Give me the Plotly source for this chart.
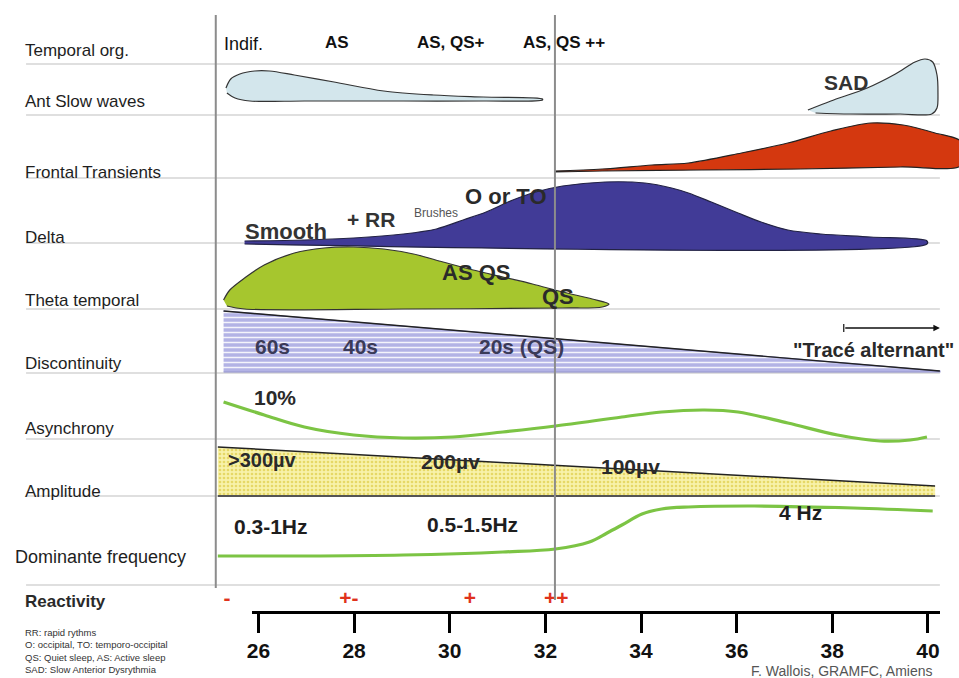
import plotly.graph_objects as go

FONT = "Arial, Liberation Sans, sans-serif"

# ---------------- gestational age axis (weeks) ----------------
WEEK_TICKS = [26, 28, 30, 32, 34, 36, 38, 40]
X_RANGE = (20.72, 40.65)          # visible span of the diagram, in weeks
AXIS_SPAN = (25.875, 40.25)       # span of the drawn week ruler

# ---------------- rows ----------------
ROW_LABELS = ["Temporal org.", "Ant Slow waves", "Frontal Transients", "Delta",
              "Theta temporal", "Discontinuity", "Asynchrony", "Amplitude",
              "Dominante frequency", "Reactivity"]
ROW_LABEL_Y = [50, 101, 172, 237, 300, 363, 428, 491, 557, 601]
ROW_RULES = [64, 115, 178, 243, 309, 373, 439, 496, 585]   # lower rule of each row
TERM_BOUNDARY = 32.2

# ---------------- profiles (weeks, height above the row rule) ----------------
ORG_WEEKS = [25.34, 27.64, 30.03, 31.59]
ORG_TEXT = ["Indif.", "AS", "AS, QS+", "AS, QS ++"]

ANT_SLOW_WEEKS = [25.32, 25.42, 25.61, 25.92, 26.23, 26.75, 27.58, 28.62, 29.66, 30.70,
                  31.94, 31.94, 30.70, 29.03, 26.96, 25.82, 25.51, 25.34]
ANT_SLOW_LEVEL = [27, 36, 41, 44, 44, 40, 33, 24, 20, 18, 16, 15, 14, 14, 14, 14, 17, 22]

SAD_WEEKS = [37.49, 37.97, 38.73, 39.32, 39.73, 39.94, 40.10, 40.19, 40.21, 40.19,
             40.08, 39.42, 38.38, 37.65]
SAD_LEVEL = [5, 14, 27, 41, 53, 56, 53, 40, 22, 7, 1, 1, 1, 2]

FRONTAL_WEEKS = [32.19, 33.19, 34.23, 34.99, 36.10, 37.07, 37.97, 38.80, 39.48, 40.15,
                 40.71, 40.71, 39.42, 37.34, 35.26, 33.19, 32.19]
FRONTAL_LEVEL = [7, 9, 13, 15, 25, 35, 47, 55, 53, 45, 36, 13, 11, 9, 8, 7, 6]

DELTA_WEEKS = [25.71, 26.96, 27.99, 29.03, 29.72, 30.28, 30.76, 31.32, 31.80, 32.36,
               33.25, 34.08, 34.64, 34.99, 35.47, 36.03, 36.51, 37.07, 37.76, 38.80,
               39.98, 39.98, 25.71]
DELTA_LEVEL = [2, 3, 5, 9, 14, 23, 31, 43, 51, 57, 61, 60, 55, 50, 41, 30, 21, 13, 9, 6,
               2, -1, -1]

THETA_WEEKS = [25.27, 25.40, 25.71, 26.12, 26.75, 27.37, 27.99, 28.62, 29.24, 29.86,
               30.49, 31.11, 31.73, 32.36, 32.98, 33.33, 33.19, 32.36, 29.03, 25.71, 25.34]
THETA_LEVEL = [9, 19, 31, 44, 56, 61, 62, 60, 55, 47, 39, 32, 25, 17, 10, 5, 2, 1, 0, 0, 3]

DISCONT_WEEKS = [25.27, 40.25, 40.25, 25.27]
DISCONT_LEVEL = [62, 2, 1, 1]

ASYNC_WEEKS = [25.27, 26.12, 26.96, 27.99, 29.03, 30.07, 31.11, 32.21, 33.60, 34.43,
               35.33, 36.03, 37.07, 38.11, 39.00, 39.63, 39.98]
ASYNC_LEVEL = [37, 24, 12, 4, 1, 2, 7, 13, 22, 27, 29, 27, 16, 4, -2, -1, 2]

AMPL_WEEKS = [25.15, 40.15, 40.15, 25.15]
AMPL_LEVEL = [49, 10, 0, 0]

FREQ_WEEKS = [25.15, 26.96, 29.03, 31.11, 32.21, 32.92, 33.29, 33.60, 34.02, 34.43,
              34.99, 36.37, 38.44, 40.10]
FREQ_LEVEL = [29, 29, 30, 33, 36, 43, 52, 60, 71, 76, 78, 79, 77, 74]

REACT_WEEKS = [25.34, 27.89, 30.42, 32.23]
REACT_MARKS = ["-", "+-", "+", "++"]


def on_row(row, levels):
    base = ROW_RULES[row]
    return [base - v for v in levels]


fig = go.Figure()


def blob(weeks, levels, row, fill, edge="#333333", width=1.2, smooth=True, pattern=None):
    fig.add_trace(go.Scatter(
        x=weeks, y=on_row(row, levels), mode="lines", fill="toself",
        fillcolor=fill, fillpattern=pattern,
        line=dict(color=edge, width=width, shape="spline" if smooth else "linear",
                  smoothing=0.9),
        hoverinfo="skip", showlegend=False))


def curve(weeks, levels, row, color="#7cc444", width=3.2):
    fig.add_trace(go.Scatter(
        x=weeks, y=on_row(row, levels), mode="lines",
        line=dict(color=color, width=width, shape="spline", smoothing=1.0),
        hoverinfo="skip", showlegend=False))


# row rules and the two vertical guides
for y in ROW_RULES:
    fig.add_shape(type="line", xref="x", yref="y", x0=21.14, x1=40.25, y0=y, y1=y,
                  line=dict(color="#d4d4d4", width=1.5), layer="below")
fig.add_shape(type="line", xref="x", yref="y", x0=25.107, x1=25.107, y0=15, y1=588,
              line=dict(color="#8c8c8c", width=2))
fig.add_shape(type="line", xref="x", yref="y", x0=TERM_BOUNDARY, x1=TERM_BOUNDARY,
              y0=15, y1=600, line=dict(color="#8c8c8c", width=2))

# filled profiles
blob(ANT_SLOW_WEEKS, ANT_SLOW_LEVEL, 1, "#d3e6ec")
blob(SAD_WEEKS, SAD_LEVEL, 1, "#d3e6ec")
blob(FRONTAL_WEEKS, FRONTAL_LEVEL, 2, "#d4380f", edge="#222222")
blob(DELTA_WEEKS, DELTA_LEVEL, 3, "#413b97", edge="#222244")
blob(THETA_WEEKS, THETA_LEVEL, 4, "#a6c62e", edge="#333333")
blob(DISCONT_WEEKS, DISCONT_LEVEL, 5, "#b6b6e6", edge="#8585c8", width=1.2, smooth=False,
     pattern=dict(shape="-", fgcolor="rgba(255,255,255,0.85)", bgcolor="#b3b3e5",
                  size=5, solidity=0.3, fillmode="replace"))
fig.add_trace(go.Scatter(x=DISCONT_WEEKS[:2], y=on_row(5, DISCONT_LEVEL[:2]), mode="lines",
                         line=dict(color="#222222", width=1.4), hoverinfo="skip",
                         showlegend=False))
blob(AMPL_WEEKS, AMPL_LEVEL, 7, "#f7ef9e", edge="rgba(0,0,0,0)", width=0.5, smooth=False,
     pattern=dict(shape=".", fgcolor="#e6d866", bgcolor="#f8f2aa", size=4,
                  solidity=0.35, fillmode="replace"))
fig.add_trace(go.Scatter(x=AMPL_WEEKS[:2], y=on_row(7, AMPL_LEVEL[:2]), mode="lines",
                         line=dict(color="#222222", width=1.5), hoverinfo="skip",
                         showlegend=False))
fig.add_trace(go.Scatter(x=AMPL_WEEKS[2:], y=on_row(7, AMPL_LEVEL[2:]), mode="lines",
                         line=dict(color="#555555", width=2), hoverinfo="skip",
                         showlegend=False))

# line profiles
curve(ASYNC_WEEKS, ASYNC_LEVEL, 6)
curve(FREQ_WEEKS, FREQ_LEVEL, 8)

# reactivity marks
fig.add_trace(go.Scatter(
    x=REACT_WEEKS, y=[600] * len(REACT_WEEKS), mode="text",
    text=[f"<b>{m}</b>" for m in REACT_MARKS],
    textfont=dict(size=21, color="#e0321c", family=FONT),
    hoverinfo="skip", showlegend=False))

# invisible anchor for the week ruler
fig.add_trace(go.Scatter(x=[WEEK_TICKS[0], WEEK_TICKS[-1]], y=[650, 650], xaxis="x2",
                         yaxis="y", mode="markers", marker=dict(opacity=0),
                         hoverinfo="skip", showlegend=False))


def note(x, y, text, size=21, bold=True, color="#222222", xanchor="center", ref="x"):
    fig.add_annotation(x=x, y=y, xref=ref, yref="y",
                       text=f"<b>{text}</b>" if bold else text, showarrow=False,
                       font=dict(size=size, color=color, family=FONT),
                       xanchor=xanchor, yanchor="middle",
                       xshift=-5 if xanchor == "left" else 0)


# row labels
for lab, y in zip(ROW_LABELS, ROW_LABEL_Y):
    if lab == "Dominante frequency":
        note(20.97, y, lab, size=18, bold=False, color="#1e1e1e", xanchor="left")
    elif lab == "Reactivity":
        note(21.18, y, lab, size=17, bold=True, color="#2a2a2a", xanchor="left")
    else:
        note(21.18, y, lab, size=17, bold=False, color="#1e1e1e", xanchor="left")

# temporal organisation
for w, t in zip(ORG_WEEKS, ORG_TEXT):
    if t == "Indif.":
        note(w, 44, t, size=18, bold=False, color="#111111", xanchor="left")
    elif t == "AS, QS ++":
        note(w, 42, t, size=17, color="#111111", xanchor="left")
    else:
        note(w, 42, t, size=17, color="#111111")

# in-plot captions
note(38.28, 82, "SAD", size=21, color="#333333")
note(26.58, 231, "Smooth", size=22, color="#333333")
note(28.35, 219, "+ RR", size=21, color="#333333")
note(29.72, 213, "Brushes", size=12, bold=False, color="#555555")
note(31.17, 196, "O or TO", size=22, color="#2a2a2a")
note(30.55, 272, "AS QS", size=22, color="#2a2a2a")
note(32.27, 296, "QS", size=22, color="#2a2a2a")
note(26.29, 346, "60s", size=21, color="#3a3a58")
note(28.14, 346, "40s", size=21, color="#3a3a58")
note(31.50, 346, "20s (QS)", size=21, color="#3a3a58")
note(38.86, 350, "\"Tracé alternant\"", size=20, color="#2a2a2a")
note(26.35, 397, "10%", size=21, color="#2a2a2a")
note(26.08, 460, "&gt;300µv", size=20, color="#2a2a2a")
note(30.01, 461, "200µv", size=21, color="#2a2a2a")
note(33.77, 466, "100µv", size=21, color="#2a2a2a")
note(26.27, 526, "0.3-1Hz", size=21, color="#1e1e1e")
note(30.47, 524, "0.5-1.5Hz", size=21, color="#1e1e1e")
note(37.34, 512, "4 Hz", size=21, color="#1e1e1e")

# arrow towards "tracé alternant"
fig.add_annotation(x=40.25, y=328, ax=38.24, ay=328, xref="x", yref="y", axref="x",
                   ayref="y", text="", showarrow=True, arrowhead=2, arrowsize=1,
                   arrowwidth=1.3, arrowcolor="#111111")
fig.add_shape(type="line", xref="x", yref="y", x0=38.24, x1=38.24, y0=324, y1=332,
              line=dict(color="#111111", width=1.2))

# abbreviations and credit
fig.add_annotation(x=20 / 959, y=651, xref="paper", yref="y", showarrow=False,
                   text=("RR: rapid rythms<br>O: occipital, TO: temporo-occipital<br>"
                         "QS: Quiet sleep, AS: Active sleep<br>SAD: Slow Anterior Dysrythmia"),
                   align="left", xanchor="left", yanchor="middle", xshift=-3,
                   font=dict(size=9.5, color="#333333", family=FONT))
fig.add_annotation(x=841 / 959, y=671, xref="paper", yref="y", showarrow=False,
                   text="F. Wallois, GRAMFC, Amiens", xanchor="center", yanchor="middle",
                   font=dict(size=14, color="#555555", family=FONT))

x_span = X_RANGE[1] - X_RANGE[0]
fig.update_layout(
    width=959, height=678, margin=dict(l=0, r=0, t=0, b=0),
    paper_bgcolor="white", plot_bgcolor="rgba(0,0,0,0)", showlegend=False,
    font=dict(family=FONT),
    xaxis=dict(range=list(X_RANGE), domain=[0, 1], visible=False, fixedrange=True),
    yaxis=dict(range=[678, 0], domain=[0, 1], visible=False, fixedrange=True),
    xaxis2=dict(
        domain=[(AXIS_SPAN[0] - X_RANGE[0]) / x_span, (AXIS_SPAN[1] - X_RANGE[0]) / x_span],
        range=list(AXIS_SPAN), anchor="free", position=1 - 612 / 678,
        showline=True, linecolor="black", linewidth=3,
        ticks="outside", ticklen=19, tickwidth=3, tickcolor="black",
        tickvals=WEEK_TICKS, ticktext=[f"<b>{t}</b>" for t in WEEK_TICKS],
        tickfont=dict(size=21, color="#111111", family=FONT),
        showgrid=False, zeroline=False, fixedrange=True),
)

fig.write_html("out.html")
